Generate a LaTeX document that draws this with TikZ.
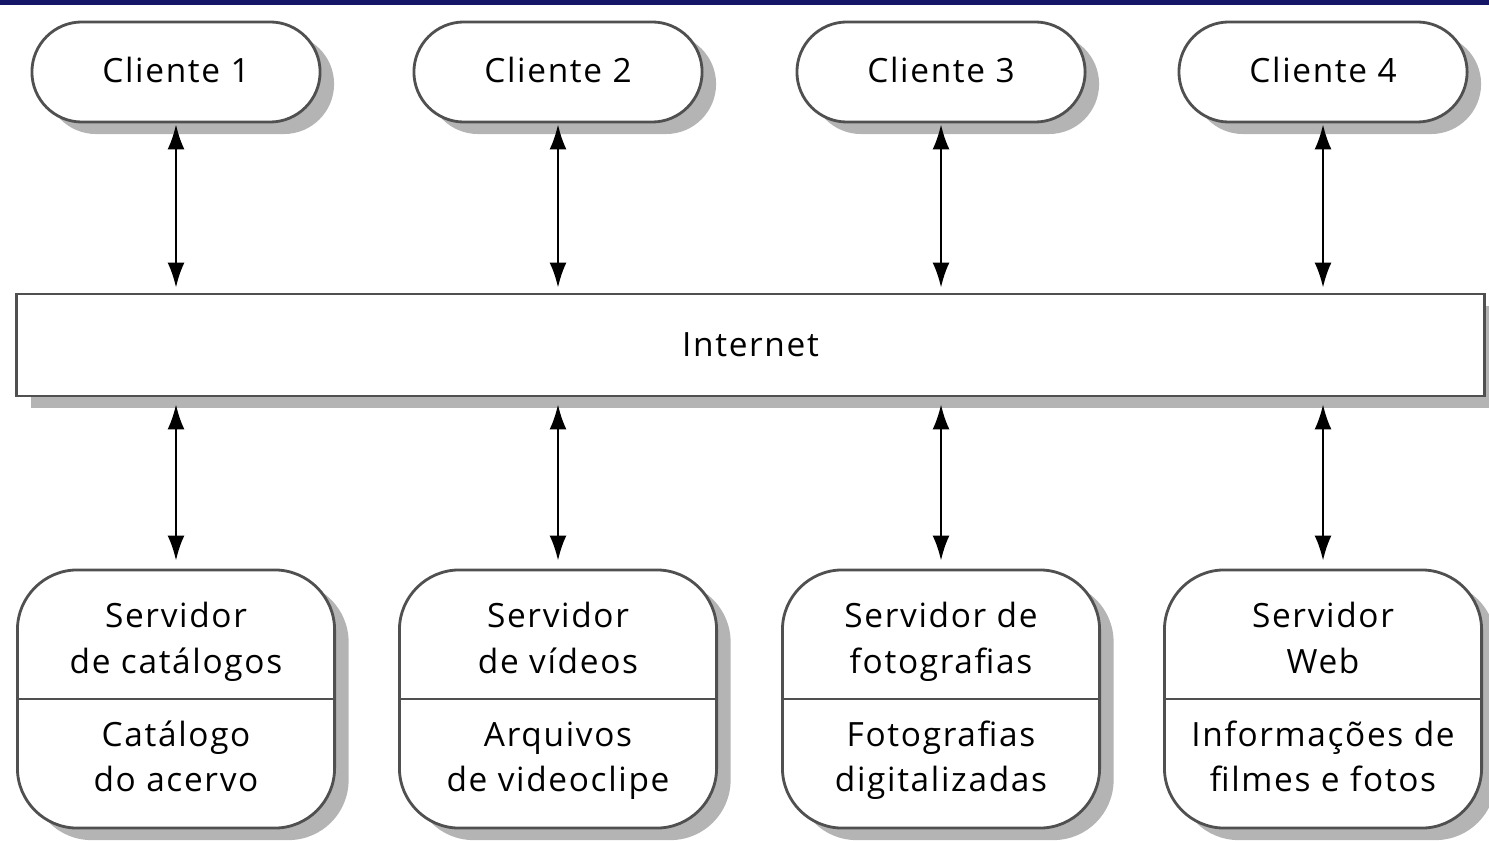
\documentclass[tikz,border=0pt]{standalone}
\usepackage{fontspec}
\setmainfont{Open Sans}[LetterSpace=5]
\usetikzlibrary{shadows}
\usetikzlibrary{arrows.meta}
\usetikzlibrary{positioning}
\definecolor{barra}{RGB}{22,22,104}
\definecolor{contorno}{RGB}{80,80,80}
\definecolor{sombra}{RGB}{180,180,180}

\begin{document}
\begin{tikzpicture}[x=0.01cm, y=-0.01cm]
            \tikzset{
                caixa/.style={draw=contorno, thick, fill=white, font=\fontsize{9.5pt}{12.8pt}\selectfont,
                    drop shadow={shadow xshift=0.14cm, shadow yshift=-0.12cm, fill=sombra, opacity=1}},
                cliente/.style={caixa, rounded corners=0.5cm, minimum width=2.88cm, minimum height=1cm},
                rede/.style={caixa, minimum width=14.67cm, minimum height=1.02cm},
                servidor/.style={caixa, rounded corners=0.6cm, minimum width=3.17cm, minimum height=2.58cm},
                rotulo/.style={align=center, anchor=base, font=\fontsize{9.5pt}{12.8pt}\selectfont},
                seta/.style={{Latex[length=0.25cm, width=0.17cm]}-{Latex[length=0.25cm, width=0.17cm]}, semithick}
            }
            \useasboundingbox (0, 0) rectangle (1489, 840);
            \fill[barra] (0, 0) rectangle (1489, 5);
            \node[rede] (net) at (750.5, 345) {};
            \node[rotulo] (nettxt) at (750.5, 356) {Internet};
            \foreach \i/\x in {1/176, 2/558, 3/941, 4/1323} {
                \node[cliente] (c\i) at (\x, 72) {};
                \node[rotulo] (c\i txt) at (\x, 83) {Cliente \i};
                \draw[seta, shorten <=0.01cm, shorten >=0.05cm] (c\i.south) -- (c\i.south |- net.north);
            }
            % base of a two-line label = baseline of its second line
            \foreach \i/\x/\cima/\baixo in {1/176/{Servidor\\de catálogos}/{Catálogo\\do acervo},
                    2/558/{Servidor\\de vídeos}/{Arquivos\\de videoclipe},
                    3/941/{Servidor de\\fotografias}/{Fotografias\\digitalizadas},
                    4/1323/{Servidor\\Web}/{Informações de\\filmes e fotos}} {
                \node[servidor] (s\i) at (\x, 699) {};
                \draw[contorno, thick] (s\i.west) -- (s\i.east);
                \node[rotulo] (s\i a) at (\x, 673) {\cima};
                \node[rotulo] (s\i b) at (\x, 791) {\baixo};
                \draw[seta, shorten <=0.07cm, shorten >=0.08cm] (s\i.north |- net.south) -- (s\i.north);
            }
        \end{tikzpicture}
\end{document}
